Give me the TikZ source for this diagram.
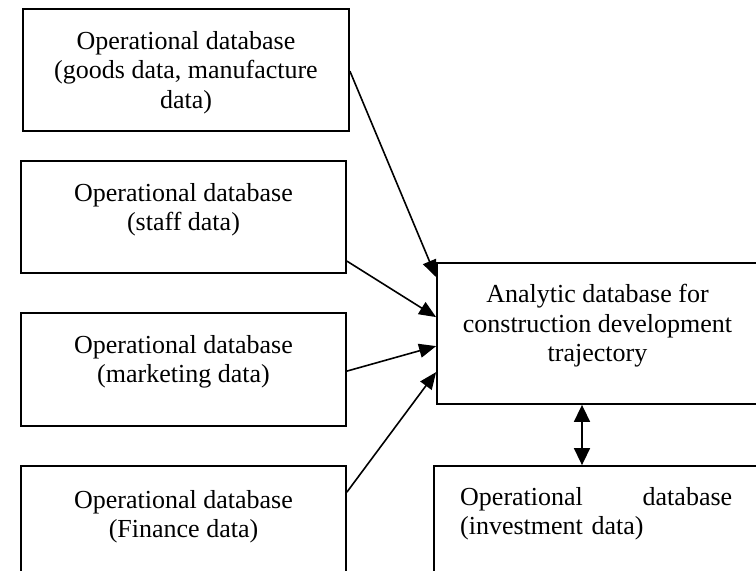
\documentclass[tikz,border=0pt]{standalone}
\usepackage{fontspec}
\setmainfont{Liberation Serif}
\usetikzlibrary{arrows.meta}
\tikzset{
  dbbox/.style={draw=black, line width=1.8pt, fill=none, inner sep=0pt},
  dbtext/.style={anchor=north, inner sep=0pt, align=center, font=\fontsize{26}{29.5}\selectfont},
  flow/.style={line width=1.6pt, -{Triangle[length=17pt,width=14pt]}},
  biflow/.style={line width=1.6pt, {Triangle[length=17pt,width=16pt]}-{Triangle[length=17pt,width=16pt]}}
}
\begin{document}
\begin{tikzpicture}[x=1pt,y=-1pt]
\useasboundingbox (0,0) rectangle (756,571);
\clip (0,0) rectangle (756,571);
\fill[white] (0,0) rectangle (756,571);
% boxes
\node[dbbox, minimum width=326pt, minimum height=122pt] (b1) at (186,70) {};
\node[dbbox, minimum width=325pt, minimum height=112pt] (b2) at (183.5,217) {};
\node[dbbox, minimum width=325pt, minimum height=113pt] (b3) at (183.5,369.5) {};
\node[dbbox, minimum width=325pt, minimum height=124pt] (b4) at (183.5,528) {};
\node[dbbox, minimum width=321pt, minimum height=141pt] (an) at (597.5,333.5) {};
\node[dbbox, minimum width=326pt, minimum height=124pt] (inv) at (597,528) {};
% texts
\node[dbtext] (t1) at (186,31) {Operational database\\(goods data, manufacture\\data)};
\node[dbtext] (t2) at (183.5,183) {Operational database\\(staff data)};
\node[dbtext] (t3) at (183.5,335) {Operational database\\(marketing data)};
\node[dbtext] (t4) at (183.5,490) {Operational database\\(Finance data)};
\node[dbtext] (t5) at (597.5,284) {Analytic database for\\construction development\\trajectory};
\node[anchor=north west, inner sep=0pt, text width=272pt, font=\fontsize{26}{29.5}\selectfont] (t6) at (460,487) {Operational\hfill database\\(investment data)};
% connectors
\draw[flow] ([yshift=-63pt]b1.north east) -- ([yshift=-15pt]an.north west);
\draw[flow] ([yshift=-101pt]b2.north east) -- ([yshift=-55pt]an.north west);
\draw[flow] ([yshift=-59pt]b3.north east) -- ([yshift=-84pt]an.north west);
\draw[flow] ([yshift=-27pt]b4.north east) -- ([yshift=-110pt]an.north west);
\draw[biflow] ([xshift=-15.5pt]an.south) -- ([xshift=-15pt]inv.north);
\end{tikzpicture}
\end{document}
